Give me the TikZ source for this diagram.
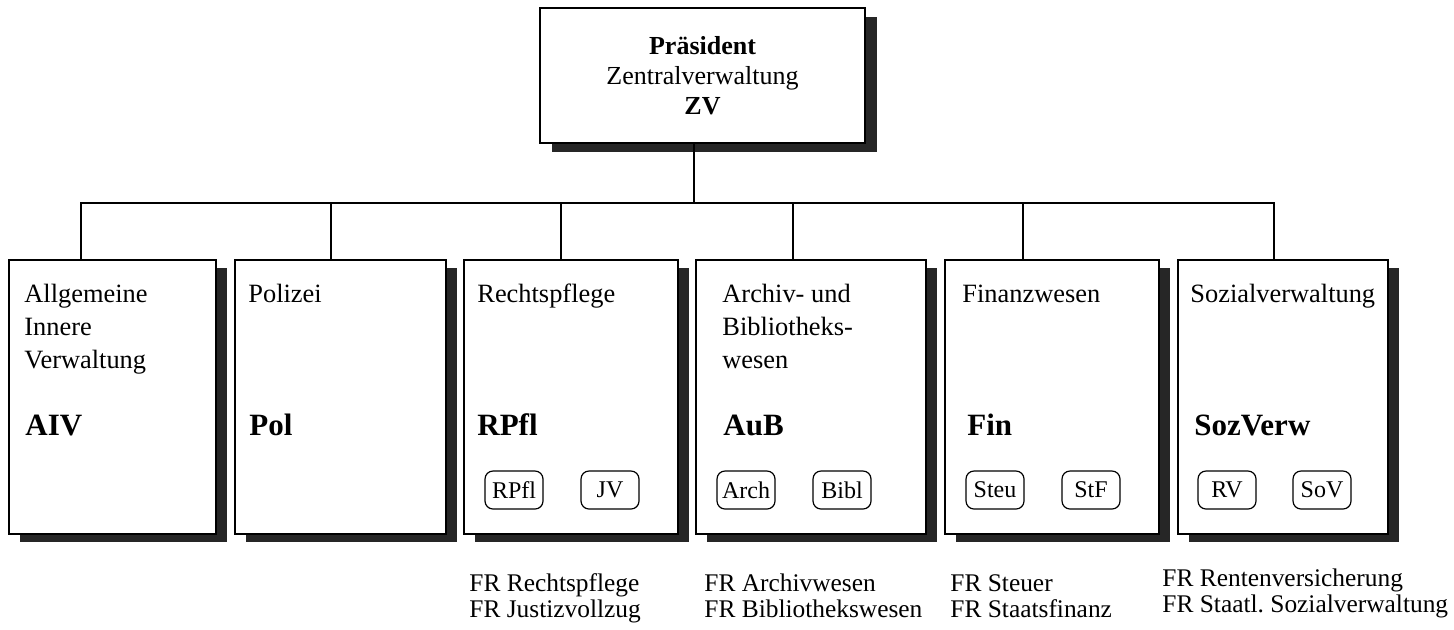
\documentclass[tikz,border=0pt]{standalone}
\usepackage{fontspec}
\setmainfont{Liberation Serif}
\usetikzlibrary{positioning,shadows}

\tikzset{
  head/.style={draw, fill=white, line width=0.9pt, minimum width=162.5pt, minimum height=67.5pt, inner sep=0pt,
    align=center, font=\fontsize{13}{15}\selectfont,
    drop shadow={shadow xshift=6pt, shadow yshift=-4.5pt, fill=black!85, opacity=1}},
  dept/.style={draw, fill=white, line width=0.9pt, anchor=north west, minimum height=137pt, inner sep=0pt,
    drop shadow={shadow xshift=5.5pt, shadow yshift=-4pt, fill=black!85, opacity=1}},
  title/.style={anchor=base west, align=left, inner sep=0pt, font=\fontsize{13.2}{16.5}\selectfont},
  abbr/.style={anchor=base west, inner sep=0pt, font=\bfseries\fontsize{15.5}{18}\selectfont},
  unit/.style={draw, rounded corners=4pt, line width=0.6pt, minimum width=29pt, minimum height=19pt,
    inner sep=0pt, font=\fontsize{12}{14}\selectfont},
  frtext/.style={anchor=base west, align=left, inner sep=0pt, font=\fontsize{12.7}{13}\selectfont},
  conn/.style={line width=0.7pt}
}

\begin{document}
\begin{tikzpicture}[x=0.5pt,y=-0.5pt]
  \useasboundingbox (0,0) rectangle (1454,629);

  % Leitung
  \node[head] (zv) at (702.5,75.5) {\textbf{Präsident}\\Zentralverwaltung\\\textbf{ZV}};

  % Abteilungen
  \node[dept, minimum width=103.5pt] (aiv)     at (8,259)    {};
  \node[dept, minimum width=105.5pt] (pol)     at (234,259)  {};
  \node[dept, minimum width=107pt]   (rpfl)    at (463,259)  {};
  \node[dept, minimum width=115pt]   (aub)     at (695,259)  {};
  \node[dept, minimum width=107pt]   (fin)     at (944,259)  {};
  \node[dept, minimum width=105pt]   (sozverw) at (1177,259) {};

  % base = letzte Zeile
  \node[title] (aivT)  at ([shift={(8pt,-54.5pt)}]aiv.north west)     {Allgemeine\\Innere\\Verwaltung};
  \node[title] (polT)  at ([shift={(7pt,-21.5pt)}]pol.north west)     {Polizei};
  \node[title] (rpflT) at ([shift={(7pt,-21.5pt)}]rpfl.north west)    {Rechtspflege};
  \node[title] (aubT)  at ([shift={(13.5pt,-54.5pt)}]aub.north west)  {Archiv- und\\Bibliotheks-\\wesen};
  \node[title] (finT)  at ([shift={(9pt,-21.5pt)}]fin.north west)     {Finanzwesen};
  \node[title] (sozT)  at ([shift={(6.5pt,-21.5pt)}]sozverw.north west) {Sozialverwaltung};

  \node[abbr] (aivA)  at ([shift={(8.5pt,-88pt)}]aiv.north west)     {AIV};
  \node[abbr] (polA)  at ([shift={(7.5pt,-88pt)}]pol.north west)     {Pol};
  \node[abbr] (rpflA) at ([shift={(7pt,-88pt)}]rpfl.north west)      {RPfl};
  \node[abbr] (aubA)  at ([shift={(14pt,-88pt)}]aub.north west)      {AuB};
  \node[abbr] (finA)  at ([shift={(11.5pt,-88pt)}]fin.north west)    {Fin};
  \node[abbr] (sozA)  at ([shift={(8.5pt,-88pt)}]sozverw.north west) {SozVerw};

  % Fachreferate
  \node[unit] (rpflU1) at ([shift={(25.5pt,-115.5pt)}]rpfl.north west)    {RPfl};
  \node[unit] (rpflU2) at ([shift={(73.5pt,-115.5pt)}]rpfl.north west)    {JV};
  \node[unit] (aubU1)  at ([shift={(25.5pt,-115.5pt)}]aub.north west)     {Arch};
  \node[unit] (aubU2)  at ([shift={(73.5pt,-115.5pt)}]aub.north west)     {Bibl};
  \node[unit] (finU1)  at ([shift={(25.5pt,-115.5pt)}]fin.north west)     {Steu};
  \node[unit] (finU2)  at ([shift={(73.5pt,-115.5pt)}]fin.north west)     {StF};
  \node[unit] (sozU1)  at ([shift={(25pt,-115.5pt)}]sozverw.north west)   {RV};
  \node[unit] (sozU2)  at ([shift={(72.5pt,-115.5pt)}]sozverw.north west) {SoV};

  \node[frtext] (rpflFR) at (469,617)  {FR Rechtspflege\\FR Justizvollzug};
  \node[frtext] (aubFR)  at (704,617)  {FR Archivwesen\\FR Bibliothekswesen};
  \node[frtext] (finFR)  at (950,617)  {FR Steuer\\FR Staatsfinanz};
  \node[frtext] (sozFR)  at (1162,612) {FR Rentenversicherung\\FR Staatl.\ Sozialverwaltung};

  % Verbindungen
  \coordinate (bus) at (694,203);
  \draw[conn] (zv.south -| bus) -- (bus);
  \draw[conn] (bus) -| ([xshift=-15.75pt]aiv.north);
  \draw[conn] (bus) -| ([xshift=-4.75pt]pol.north);
  \draw[conn] (bus) -| ([xshift=-5pt]rpfl.north);
  \draw[conn] (bus) -| ([xshift=-9pt]aub.north);
  \draw[conn] (bus) -| ([xshift=-14.5pt]fin.north);
  \draw[conn] (bus) -| ([xshift=-4.5pt]sozverw.north);
\end{tikzpicture}
\end{document}
